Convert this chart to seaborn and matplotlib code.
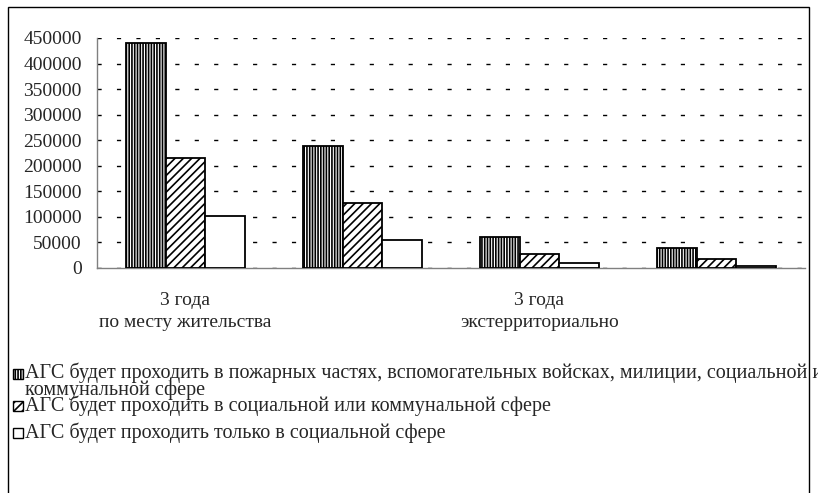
import matplotlib
matplotlib.use("Agg")
import matplotlib.pyplot as plt
from matplotlib.patches import Rectangle
from matplotlib.ticker import FuncFormatter, FixedLocator
import seaborn as sns
import pandas as pd
import numpy as np

# values
groups = [0, 1, 2, 3]
x_labels = ["3 года\nпо месту жительства", "", "3 года\nэкстерриториально", ""]
series = [
    "АГС будет проходить в пожарных частях, вспомогательных войсках, милиции, социальной или\nкоммунальной сфере",
    "АГС будет проходить в социальной или коммунальной сфере",
    "АГС будет проходить только в социальной сфере",
]
s1 = [441000, 238000, 60000, 39000]
s2 = [216000, 127000, 27000, 18000]
s3 = [102000, 54000, 9000, 4000]
hatches = ["||||||", "////", ""]

rows = []
for name, vals in zip(series, [s1, s2, s3]):
    for g, v in zip(groups, vals):
        rows.append({"group": g, "series": name, "value": v})
df = pd.DataFrame(rows)

sns.set_style("white")
plt.rcParams["font.family"] = ["Liberation Serif", "DejaVu Serif"]
plt.rcParams["hatch.linewidth"] = 1.2
plt.rcParams["lines.scale_dashes"] = False

FS = 14
W, H = 818, 493
fig = plt.figure(figsize=(W / 100, H / 100), dpi=100)
ax = fig.add_axes([97 / W, 1 - 268 / H, (805 - 97) / W, (268 - 38) / H])

sns.barplot(data=df, x="group", y="value", hue="series", hue_order=series,
            palette=["white"] * 3, edgecolor="black", linewidth=1.3,
            width=0.67, ax=ax, legend=False, zorder=3)

for cont, h in zip(ax.containers, hatches):
    for bar in cont:
        bar.set_hatch(h)

ax.set_ylim(0, 450000)
ax.set_xlim(-0.5, 3.5)
ax.set_yticks(np.arange(0, 450001, 50000))
ax.yaxis.set_major_formatter(FuncFormatter(lambda v, p: f"{int(v)}"))
ax.yaxis.grid(True, color="black", linewidth=1, linestyle=(0, (3, 11)), zorder=0)
ax.set_axisbelow(True)

ax.set_xticks(groups)
ax.set_xticklabels(x_labels)
for t in ax.get_xticklabels():
    t.set_linespacing(1.45)
ax.xaxis.set_minor_locator(FixedLocator([-0.5, 0.5, 1.5, 2.5, 3.5]))
ax.tick_params(axis="x", which="major", length=0, pad=17, labelsize=FS)
ax.tick_params(axis="x", which="minor", length=3, direction="out", color="#808080", width=1)
ax.tick_params(axis="y", length=3, direction="out", color="black", width=1, labelsize=FS, pad=8)
ax.set_xlabel("")
ax.set_ylabel("")

for side in ["top", "right"]:
    ax.spines[side].set_visible(False)
for side in ["left", "bottom"]:
    ax.spines[side].set_color("#808080")
    ax.spines[side].set_linewidth(1)

# hand-made legend like the original Excel one
leg_y = [374, 406, 433]
txt_y = [381, 406, 433]
for name, h, py, ty in zip(series, hatches, leg_y, txt_y):
    fig.patches.append(Rectangle((13 / W, 1 - (py + 5) / H), 10 / W, 10 / H,
                                 transform=fig.transFigure, facecolor="white",
                                 edgecolor="black", hatch=h, linewidth=1))
    fig.text(25 / W, 1 - ty / H, name, fontsize=14.5, va="center", ha="left",
             linespacing=0.85)

# outer frame
fig.patches.append(Rectangle((8 / W, -0.1), (809 - 8) / W, 1 - 7 / H + 0.1,
                             transform=fig.transFigure, fill=False,
                             edgecolor="black", linewidth=1))

fig.savefig("out.png", dpi=100)
